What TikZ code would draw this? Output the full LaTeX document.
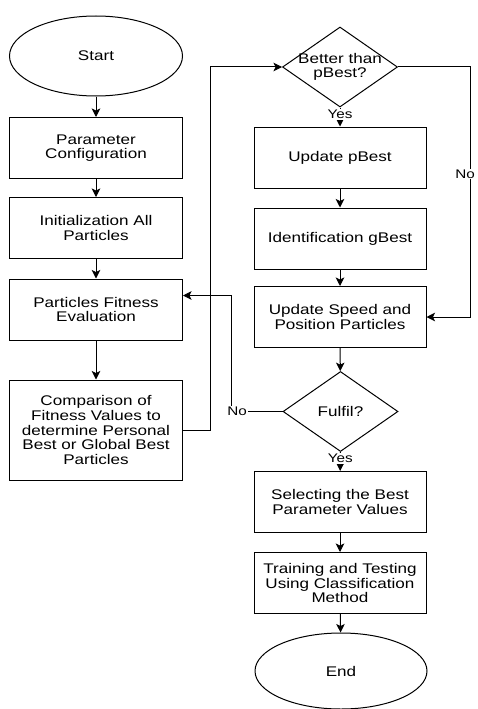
\documentclass[tikz,border=0pt]{standalone}
\usepackage{fontspec}
\setmainfont{Liberation Sans}[FakeStretch=1.22]
\usetikzlibrary{shapes.geometric,arrows.meta}

\tikzset{
  box/.style={draw, rectangle, minimum width=173pt, minimum height=61pt, align=center,
    font=\fontsize{14}{14.7}\selectfont, line width=1pt},
  term/.style={draw, ellipse, minimum width=173pt, minimum height=80pt, inner sep=0pt,
    font=\fontsize{14}{14.7}\selectfont, line width=1pt},
  decision/.style={draw, diamond, minimum width=115pt, minimum height=80pt, inner sep=0pt,
    line width=1pt},
  lbl/.style={fill=white, inner sep=1pt, font=\fontsize{12.5}{13}\selectfont},
  arr/.style={-{Stealth[length=8.5pt,width=8.5pt,inset=2pt]}, line width=1pt}
}

\begin{document}
\begin{tikzpicture}[x=1pt, y=-1pt]
\useasboundingbox (0,0) rectangle (477,709);

% left column
\node[term] (start) at (96,56) {Start};
\node[box] (param) at (96,148) {Parameter\\Configuration};
\node[box] (init) at (96,228) {Initialization All\\Particles};
\node[box] (fitness) at (96,309.5) {Particles Fitness\\Evaluation};
\node[box, minimum height=100pt] (compare) at (96,430) {Comparison of\\Fitness Values to\\determine Personal\\Best or Global Best\\Particles};

% right column
\node[decision, label={[align=center, font=\fontsize{14}{14.7}\selectfont]center:Better than\\pBest?}] (better) at (340,67) {};
\node[box, minimum width=172pt] (updp) at (340,157.5) {Update pBest};
\node[box, minimum width=172pt] (ident) at (340,238.5) {Identification gBest};
\node[box, minimum width=172pt] (speed) at (340,317) {Update Speed and\\Position Particles};
\node[decision, font=\fontsize{14}{14.7}\selectfont] (fulfil) at (340.5,411.5) {Fulfil?};
\node[box, minimum width=172pt] (select) at (340,502) {Selecting the Best\\Parameter Values};
\node[box, minimum width=172pt] (train) at (340,583) {Training and Testing\\Using Classification\\Method};
\node[term, minimum width=172pt, minimum height=76pt] (end) at (341,671) {End};

\draw[arr] (start) -- (param);
\draw[arr] (param) -- (init);
\draw[arr] (init) -- (fitness);
\draw[arr] (fitness) -- (compare);
\draw[arr] (compare.east) -- ++(27,0) |- (better.west);

\draw[arr] (better) -- node[lbl, pos=0.35] (yes1) {Yes} (updp);
\draw[arr] (updp) -- (ident);
\draw[arr] (ident) -- (speed);
\draw[arr] (speed) -- (fulfil);
\draw[arr] (better.east) -- ++(72,0) |- (speed.east);
\node[lbl] (no1) at (465,174) {No};

\draw[arr] (fulfil.west) -- ++(-51.5,0) coordinate (c2) |- ([yshift=14pt]fitness.east);
\node[lbl] (no2) at ([xshift=6pt]c2) {No};

\draw[arr] (fulfil) -- node[lbl, pos=0.35] (yes2) {Yes} (select);
\draw[arr] (select) -- (train);
\draw[arr] (train) -- (end);

\end{tikzpicture}
\end{document}
